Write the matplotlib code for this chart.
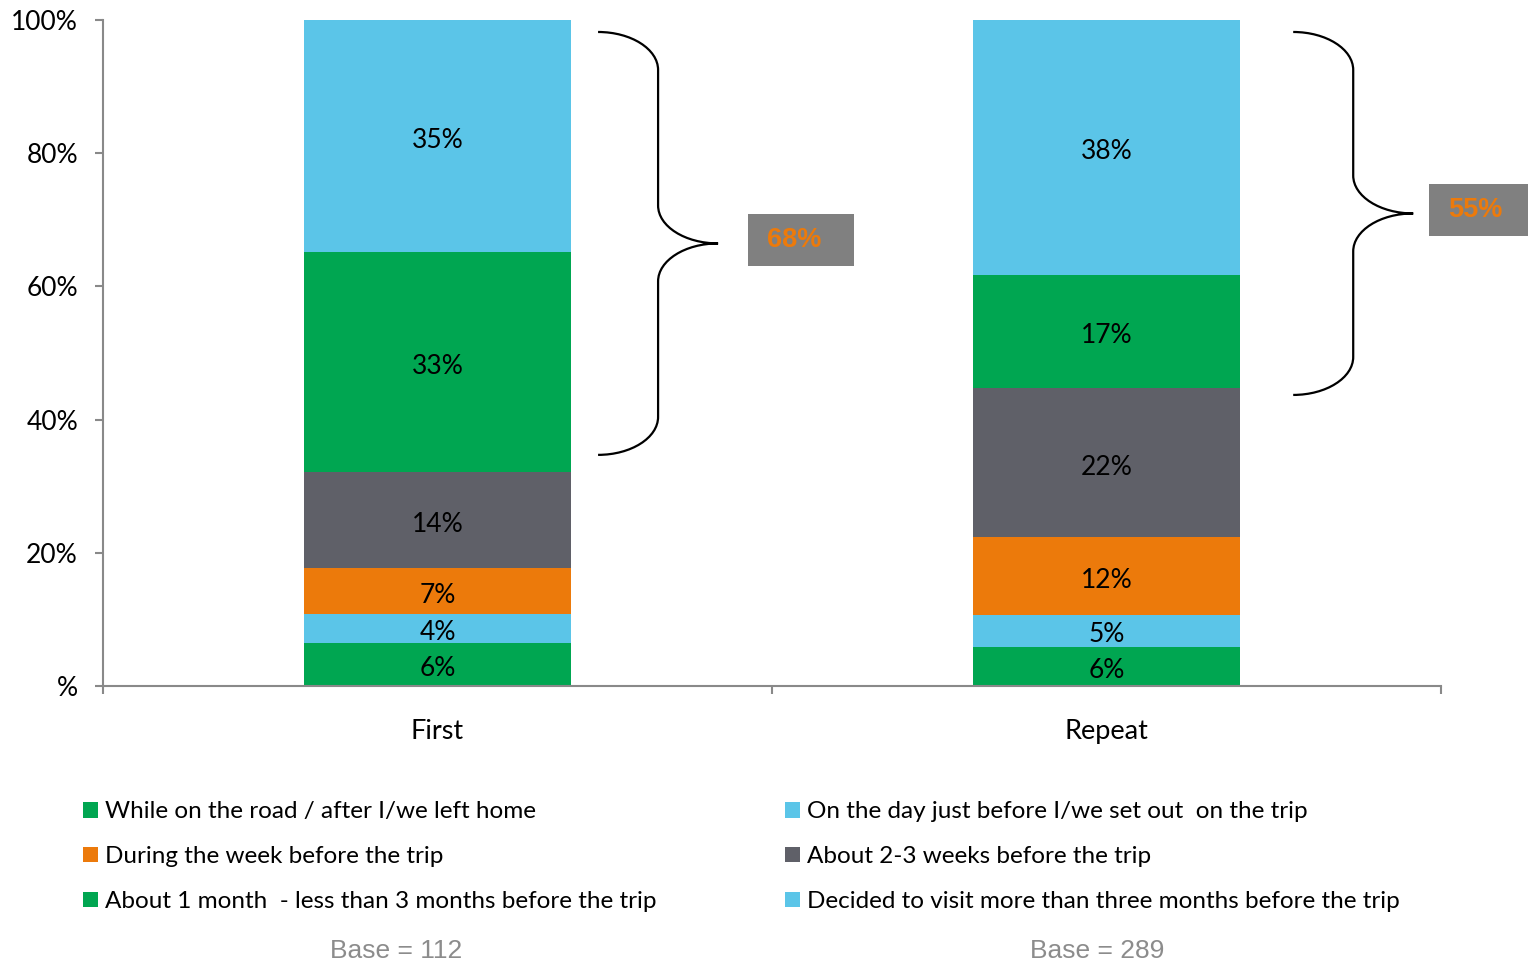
import matplotlib
matplotlib.use("Agg")
import matplotlib.pyplot as plt
from matplotlib.patches import PathPatch, Rectangle, Patch
from matplotlib.path import Path

plt.rcParams['font.family'] = ['Lato', 'DejaVu Sans']

# share of visitors by when they decided to visit, first vs repeat
groups = ['First', 'Repeat']
segments = [
    'While on the road / after I/we left home',
    'On the day just before I/we set out  on the trip',
    'During the week before the trip',
    'About 2-3 weeks before the trip',
    'About 1 month  - less than 3 months before the trip',
    'Decided to visit more than three months before the trip',
]
first = [6.4, 4.4, 6.9, 14.4, 33.0, 34.9]
repeat = [5.9, 4.8, 11.6, 22.4, 17.0, 38.3]
bases = [112, 289]
colors = ['#00A651', '#5BC5E8', '#EC7A0B', '#5F6068', '#00A651', '#5BC5E8']

ytick_vals = [0, 20, 40, 60, 80, 100]
ytick_labels = ['%', '20%', '40%', '60%', '80%', '100%']

# brace/callout placement (data coords)
brace_x = [0.24, 1.279]
brace_span = [(34.7, 98.2), (43.7, 98.2)]
box_x = [0.464, 1.482]

fig = plt.figure(figsize=(15.28, 9.66), dpi=100)
ax = fig.add_axes([0.0674, 0.2899, 0.8757, 0.6894])

xs = range(len(groups))
bottoms = [0.0, 0.0]
for i, name in enumerate(segments):
    vals = [first[i], repeat[i]]
    b = ax.bar(xs, vals, width=0.4, bottom=bottoms, color=colors[i], label=name, zorder=2)
    texts = ax.bar_label(b, labels=['%.0f%%' % v for v in vals], label_type='center',
                         fontsize=19, color='black')
    for t in texts:
        t.xyann = (0, -3)
    bottoms = [bottoms[0] + vals[0], bottoms[1] + vals[1]]

ax.set_xlim(-0.5, 1.5)
ax.set_ylim(0, 100)
for s in ['top', 'right']:
    ax.spines[s].set_visible(False)
for s in ['left', 'bottom']:
    ax.spines[s].set_color('#898989')
    ax.spines[s].set_linewidth(1.5)

ax.set_yticks(ytick_vals)
ax.set_yticklabels(ytick_labels)
ax.tick_params(axis='y', length=6, width=1.5, color='#898989', pad=12, labelsize=19)
ax.set_xticks(list(xs))
ax.set_xticklabels(groups)
ax.tick_params(axis='x', which='major', length=0, pad=24, labelsize=19.5)
ax.set_xticks([-0.5, 0.5, 1.5], minor=True)
ax.tick_params(axis='x', which='minor', length=6, width=1.5, color='#898989')


def draw_brace(ax, x0, y0, y1, w=0.0897, h=5.7):
    ym = (y0 + y1) / 2
    xm = x0 + w
    tip = xm + w
    verts = [
        (x0, y1), (x0 + 0.55 * w, y1), (xm, y1 - 0.45 * h), (xm, y1 - h),
        (xm, ym + h),
        (xm, ym + 0.45 * h), (xm + 0.45 * w, ym), (tip, ym),
        (xm + 0.45 * w, ym), (xm, ym - 0.45 * h), (xm, ym - h),
        (xm, y0 + h),
        (xm, y0 + 0.45 * h), (x0 + 0.55 * w, y0), (x0, y0),
    ]
    codes = [Path.MOVETO, Path.CURVE4, Path.CURVE4, Path.CURVE4,
             Path.LINETO,
             Path.CURVE4, Path.CURVE4, Path.CURVE4,
             Path.CURVE4, Path.CURVE4, Path.CURVE4,
             Path.LINETO,
             Path.CURVE4, Path.CURVE4, Path.CURVE4]
    ax.add_patch(PathPatch(Path(verts, codes), fill=False, lw=1.6,
                           edgecolor='black', clip_on=False, zorder=3))
    return ym


vals = [first, repeat]
for i in range(len(groups)):
    top_two = vals[i][4] + vals[i][5]
    ym = draw_brace(ax, brace_x[i], *brace_span[i])
    ax.add_patch(Rectangle((box_x[i], ym - 3.45), 0.159, 7.9, facecolor='#808080',
                           edgecolor='none', clip_on=False, zorder=3))
    ax.text(box_x[i] + 0.069, ym + 0.5, '%.0f%%' % top_two, ha='center', va='center',
            fontsize=19.5, fontweight='bold', color='#EC7A0B',
            family=['Liberation Sans', 'DejaVu Sans'], clip_on=False, zorder=4)

# legend: row-major order, two columns
order = [0, 2, 4, 1, 3, 5]
handles = [Patch(facecolor=colors[k], edgecolor='none') for k in order]
labels = [segments[k] for k in order]
fig.legend(handles, labels, loc='upper left', bbox_to_anchor=(0.0465, 0.183),
           ncol=2, frameon=False, fontsize=17.5, handlelength=0.6, handleheight=0.6,
           handletextpad=0.3, labelspacing=0.98, columnspacing=5.3, borderpad=0)

for x, b in zip([0.259, 0.718], bases):
    fig.text(x, 0.0155, 'Base = %d' % b, ha='center', va='center', fontsize=19,
             color='#8C8C8C', family=['Liberation Sans', 'DejaVu Sans'])

fig.savefig('out.png', dpi=100)
